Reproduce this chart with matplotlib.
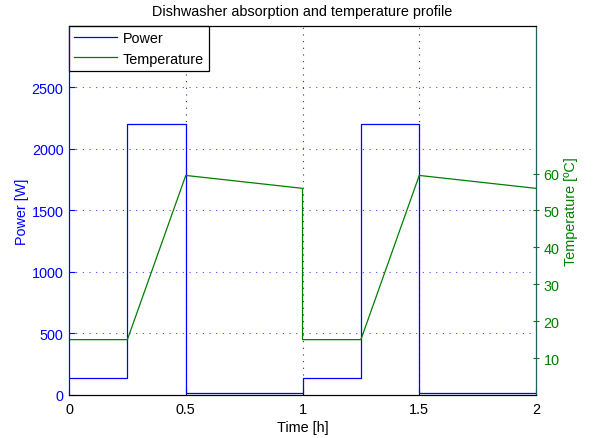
import matplotlib
matplotlib.use('Agg')
import matplotlib.pyplot as plt

plt.rcParams['font.family'] = ['Liberation Sans', 'DejaVu Sans']

# Power profile (step), two identical cycles
time_power = [0, 0.25, 0.25, 0.5, 0.5, 1.0, 1.0, 1.25, 1.25, 1.5, 1.5, 2.0]
power = [135, 135, 2200, 2200, 20, 20, 135, 135, 2200, 2200, 20, 20]

# Temperature profile
time_temp = [0, 0.25, 0.5, 1.0, 1.0, 1.25, 1.5, 2.0]
temperature = [15, 15, 59.5, 56, 15, 15, 59.5, 56]

power_ticks = [0, 500, 1000, 1500, 2000, 2500]
temp_ticks = [10, 20, 30, 40, 50, 60]
time_ticks = [0, 0.5, 1, 1.5, 2]

BLUE = '#0000ff'
GREEN = '#007f00'
FS = 10.4

fig = plt.figure(figsize=(5.93, 4.39), dpi=100)
ax = fig.add_axes([0.1164, 0.098, 0.7875, 0.8405])
ax2 = ax.twinx()

l1, = ax.plot(time_power, power, color=BLUE, lw=0.9, label='Power')
l2, = ax2.plot(time_temp, temperature, color=GREEN, lw=0.9, label='Temperature')

ax.set_xlim(0, 2)
ax.set_ylim(0, 3000)
ax2.set_ylim(0, 100)
ax.set_xticks(time_ticks)
ax.set_xticklabels(['0', '0.5', '1', '1.5', '2'])
ax.set_yticks(power_ticks)
ax2.set_yticks(temp_ticks)

# grid: dotted, vertical black, horizontal blue
for x in time_ticks[1:-1]:
    ax.axvline(x, color='#333333', ls=(0, (1, 5)), lw=0.8, zorder=0)
for y in power_ticks[1:]:
    ax.axhline(y, color=BLUE, ls=(0, (1, 5)), lw=0.8, alpha=0.7, zorder=0)

ax.tick_params(axis='x', direction='in', labelsize=FS, length=4, pad=5)
ax.tick_params(axis='y', direction='in', colors=BLUE, labelsize=FS, length=4, pad=4)
ax2.tick_params(axis='y', direction='inout', colors=GREEN, labelsize=FS, length=5, pad=3)

ax.spines['left'].set_color(BLUE)
ax2.spines['left'].set_color(BLUE)
ax2.spines['right'].set_color('#1f5f5f')

ax.set_xlabel('Time [h]', fontsize=FS, labelpad=3)
ax.set_ylabel('Power [W]', fontsize=FS, color=BLUE, labelpad=2)
ax2.set_ylabel('Temperature [ºC]', fontsize=FS, color=GREEN, labelpad=3)
ax.set_title('Dishwasher absorption and temperature profile', fontsize=FS, pad=8)

leg = ax.legend([l1, l2], ['Power', 'Temperature'], loc='upper left',
                fontsize=FS, fancybox=False, framealpha=1, edgecolor='black',
                borderaxespad=0, handlelength=3.0, handletextpad=0.35,
                borderpad=0.35, labelspacing=0.45)
leg.get_frame().set_linewidth(0.9)

fig.savefig('out.png', dpi=100)
